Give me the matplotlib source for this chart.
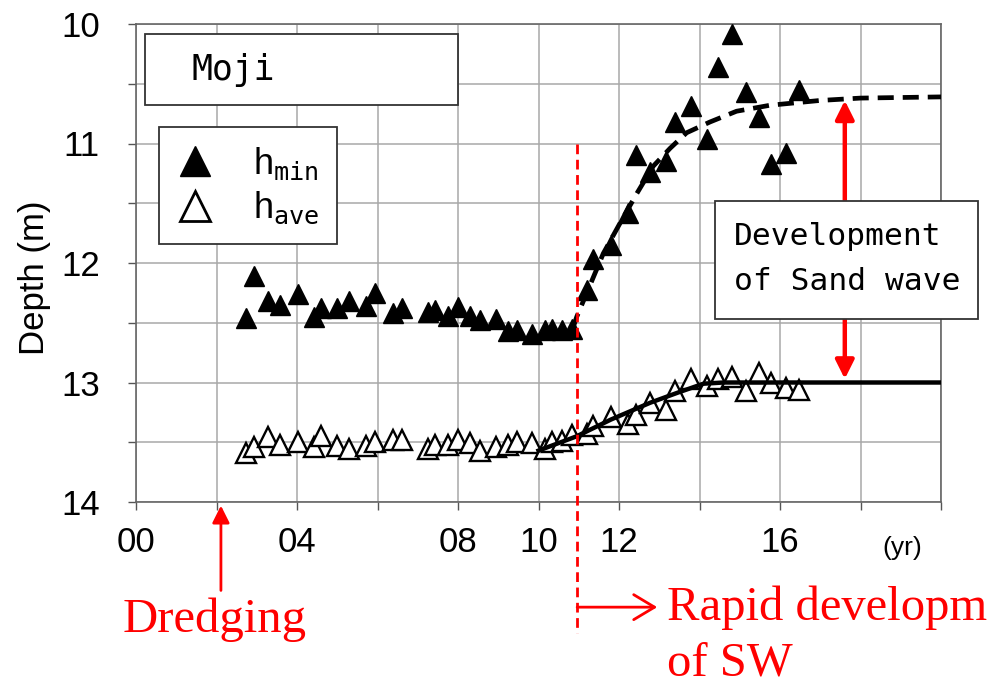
import matplotlib.pyplot as plt
from matplotlib.lines import Line2D
from matplotlib.patches import Rectangle

plt.rcParams["font.family"] = ["Liberation Sans", "DejaVu Sans"]
plt.rcParams["mathtext.fontset"] = "custom"
plt.rcParams["mathtext.rm"] = "Liberation Sans"
plt.rcParams["mathtext.tt"] = "DejaVu Sans Mono"

# survey years (2000 = 0) and depths in metres
yr = [2.73, 2.92, 3.29, 3.58, 4.02, 4.41, 4.60, 4.99, 5.28, 5.71, 5.95,
      6.39, 6.60, 7.26, 7.43, 7.74, 7.99, 8.31, 8.55, 8.94, 9.25, 9.46,
      9.83, 10.16, 10.33, 10.58, 10.82, 11.20, 11.35, 11.79, 12.23, 12.41,
      12.77, 13.17, 13.39, 13.78, 14.18, 14.47, 14.80, 15.15, 15.49, 15.78,
      16.15, 16.46]
h_min = [12.46, 12.11, 12.32, 12.35, 12.26, 12.45, 12.38, 12.38, 12.32, 12.36,
         12.25, 12.42, 12.38, 12.41, 12.39, 12.44, 12.37, 12.44, 12.48, 12.47,
         12.57, 12.56, 12.59, 12.56, 12.55, 12.56, 12.55, 12.23, 11.97, 11.85,
         11.58, 11.10, 11.24, 11.15, 10.82, 10.69, 10.96, 10.36, 10.08, 10.57,
         10.78, 11.17, 11.08, 10.55]
h_ave = [13.59, 13.54, 13.46, 13.52, 13.50, 13.54, 13.45, 13.53, 13.56, 13.53,
         13.50, 13.48, 13.48, 13.56, 13.52, 13.52, 13.48, 13.51, 13.57, 13.54,
         13.52, 13.50, 13.51, 13.56, 13.50, 13.49, 13.44, 13.43, 13.36, 13.29,
         13.35, 13.27, 13.17, 13.23, 13.07, 12.97, 13.03, 12.97, 12.95, 13.07,
         12.92, 13.00, 13.05, 13.06]

# trend curves
fit_min_x = [10.85, 10.95, 11.20, 11.61, 12.02, 12.44, 12.85, 13.27, 13.68,
             14.26, 14.92, 15.75, 16.99, 18.0, 20.0]
fit_min_y = [12.55, 12.45, 12.25, 11.92, 11.67, 11.42, 11.19, 11.04, 10.91,
             10.82, 10.73, 10.68, 10.64, 10.62, 10.61]
fit_ave_x = [10.0, 10.95, 11.8, 12.77, 13.5, 14.1, 14.6, 20.0]
fit_ave_y = [13.57, 13.45, 13.31, 13.17, 13.08, 13.01, 13.0, 13.0]

xtick_pos = list(range(0, 21, 2))
xtick_lab = ["00", "", "04", "", "08", "10", "12", "", "16", "", ""]
ytick_pos = [10, 11, 12, 13, 14]

t_dredge = 2.11
t_rapid = 10.96

W, H = 988, 685
fig = plt.figure(figsize=(W / 100, H / 100), dpi=100)
ax = fig.add_axes([136 / W, 1 - 502 / H, 805 / W, 478 / H])


def fx(px):
    return px / W


def fy(py):
    return 1 - py / H


ax.set_xlim(0, 20)
ax.set_ylim(14, 10)
ax.set_xticks(xtick_pos)
ax.set_xticklabels(xtick_lab)
ax.set_yticks(ytick_pos)
ax.set_yticks([10.5, 11.5, 12.5, 13.5], minor=True)
ax.grid(True, which="both", color="#a8a8a8", lw=1.1)
ax.set_axisbelow(True)
ax.tick_params(axis="both", which="both", direction="out", length=6,
               width=1.0, color="#555555", labelsize=25)
ax.tick_params(axis="x", pad=11)
ax.tick_params(axis="y", pad=20)
for s in ax.spines.values():
    s.set_color("#666666")
    s.set_linewidth(1.2)

ax.set_ylabel("Depth (m)", fontsize=25)
ax.yaxis.set_label_coords(-0.105, 0.47)

ax.plot(yr, h_min, ls="none", marker="^", ms=14, color="black", zorder=3)
ax.plot(yr, h_ave, ls="none", marker="^", ms=14, mfc="white", mec="black",
        mew=1.7, zorder=3)
ax.plot(fit_min_x, fit_min_y, color="black", lw=3.4, dashes=(3.4, 1.9),
        zorder=4)
ax.plot(fit_ave_x, fit_ave_y, color="black", lw=3.2, zorder=4)

# onset of rapid sand wave growth
ax.plot([t_rapid, t_rapid], [11.0, 15.1], color="red", lw=2,
        dashes=(3.5, 2.0), clip_on=False, zorder=5)

# sand wave height
ax.annotate("", xy=(17.61, 10.64), xytext=(17.61, 12.97),
            arrowprops=dict(arrowstyle="<|-|>", color="red", lw=3.2,
                            mutation_scale=28, shrinkA=0, shrinkB=0),
            zorder=5)

# dredging marker below the axis
ax.annotate("", xy=(t_dredge, 14.03), xytext=(t_dredge, 14.74),
            arrowprops=dict(arrowstyle="-|>", color="red", lw=2,
                            mutation_scale=26, shrinkA=0, shrinkB=0),
            annotation_clip=False)
fig.text(fx(215), fy(620), "Dredging", color="red", fontsize=35,
         family="Liberation Serif", ha="center", va="center")

ax.annotate("", xy=(t_rapid + 1.99, 14.88), xytext=(t_rapid, 14.88),
            arrowprops=dict(arrowstyle="->,head_length=0.5,head_width=0.3",
                            color="red", lw=2, mutation_scale=30,
                            shrinkA=0, shrinkB=0),
            annotation_clip=False)
fig.text(fx(667), fy(608), "Rapid developm", color="red", fontsize=35,
         family="Liberation Serif", ha="left", va="center")
fig.text(fx(667), fy(663), "of SW", color="red", fontsize=35,
         family="Liberation Serif", ha="left", va="center")

fig.text(fx(902), fy(548), "(yr)", fontsize=19, ha="center", va="center")

# station name box
fig.patches.append(Rectangle((fx(145), fy(105)), fx(313), 71 / H,
                             transform=fig.transFigure, fc="white",
                             ec="#333333", lw=1.3, zorder=5))
fig.text(fx(191), fy(70), "Moji", fontsize=25, family="DejaVu Sans Mono",
         ha="left", va="center", zorder=6)

# annotation box
fig.patches.append(Rectangle((fx(715), fy(319)), fx(263), 118 / H,
                             transform=fig.transFigure, fc="white",
                             ec="#333333", lw=1.3, zorder=5))
fig.text(fx(734), fy(236), "Development", fontsize=22.5,
         family="DejaVu Sans Mono", ha="left", va="center", zorder=6)
fig.text(fx(734), fy(281), "of Sand wave", fontsize=22.5,
         family="DejaVu Sans Mono", ha="left", va="center", zorder=6)

handles = [Line2D([], [], ls="none", marker="^", ms=21, color="black"),
           Line2D([], [], ls="none", marker="^", ms=21, mfc="white",
                  mec="black", mew=2)]
leg = ax.legend(handles, [r"h$_{\mathtt{min}}$", r"h$_{\mathtt{ave}}$"],
                loc="upper left", bbox_to_anchor=(fx(159), fy(127)),
                bbox_transform=fig.transFigure, fontsize=26, frameon=True,
                fancybox=False, edgecolor="#333333", framealpha=1,
                borderpad=0.5, handlelength=1.0, handletextpad=1.1,
                labelspacing=0.22, borderaxespad=0)
leg.get_frame().set_linewidth(1.3)
leg._legend_box.align = "left"

fig.savefig("out.png", dpi=100)
